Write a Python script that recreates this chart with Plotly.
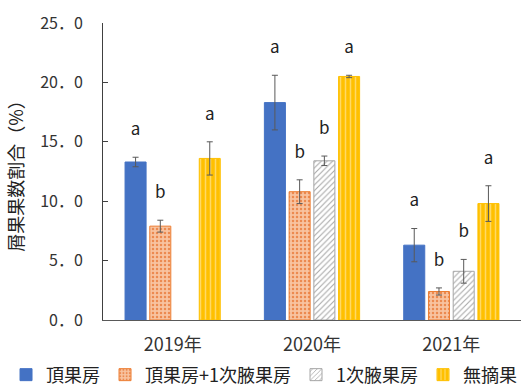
import plotly.graph_objects as go

years = ["2019年", "2020年", "2021年"]
series = ["頂果房", "頂果房+1次腋果房", "1次腋果房", "無摘果"]
values = {
    "頂果房": [13.3, 18.3, 6.3],
    "頂果房+1次腋果房": [7.9, 10.8, 2.4],
    "1次腋果房": [None, 13.4, 4.1],
    "無摘果": [13.6, 20.5, 9.8],
}
errors = {
    "頂果房": [0.4, 2.3, 1.4],
    "頂果房+1次腋果房": [0.5, 1.0, 0.3],
    "1次腋果房": [None, 0.4, 1.0],
    "無摘果": [1.4, 0.1, 1.5],
}
letters = {
    "頂果房": ["a", "a", "a"],
    "頂果房+1次腋果房": ["b", "b", "b"],
    "1次腋果房": ["", "b", "b"],
    "無摘果": ["a", "a", "a"],
}
yticks = [0, 5, 10, 15, 20, 25]
yticklabels = ["0．0", "5．0", "10．0", "15．0", "20．0", "25．0"]

styles = {
    "頂果房": dict(color="#4472C4", line=dict(color="#4472C4", width=1)),
    "頂果房+1次腋果房": dict(color="#F8C3A0", line=dict(color="#ED7D31", width=1),
                        pattern=dict(shape=".", fgcolor="#EC8A50", bgcolor="#F8C3A0",
                                     size=4, solidity=0.3, fillmode="replace")),
    "1次腋果房": dict(color="#FFFFFF", line=dict(color="#A6A6A6", width=1),
                  pattern=dict(shape="/", fgcolor="#A6A6A6", bgcolor="#FFFFFF",
                               size=4, solidity=0.25, fillmode="replace")),
    "無摘果": dict(color="#FFC000", line=dict(color="#FFC000", width=1),
                pattern=dict(shape="|", fgcolor="#FFD966", bgcolor="#FFC000",
                             size=5, solidity=0.3, fillmode="replace")),
}

FONT = "Noto Sans CJK JP"
fig = go.Figure()
for s in series:
    fig.add_trace(go.Bar(
        x=years, y=values[s], name=s, offsetgroup=s,
        marker=styles[s],
        error_y=dict(type="data", array=errors[s], visible=True,
                     color="#595959", thickness=1, width=3),
        hoverinfo="skip",
    ))

# significance letters above error bars (same offsetgroup -> same x slot)
pad = 1.2
for s in series:
    base = [(v + e) if v is not None else None for v, e in zip(values[s], errors[s])]
    fig.add_trace(go.Bar(
        x=years, y=[pad if b is not None else None for b in base], base=base,
        offsetgroup=s, showlegend=False, hoverinfo="skip",
        marker=dict(color="rgba(0,0,0,0)", line=dict(width=0)),
        text=letters[s], textposition="outside", constraintext="none",
        textfont=dict(family=FONT, size=17, color="#222222"),
        cliponaxis=False,
    ))

fig.update_layout(
    width=521, height=388,
    margin=dict(l=103, r=0, t=23, b=68, autoexpand=False),
    paper_bgcolor="white", plot_bgcolor="white",
    barmode="group", bargap=0.29, bargroupgap=0.15,
    font=dict(family=FONT, size=15, color="#333333"),
    showlegend=True,
    legend=dict(orientation="h", x=-0.232, xanchor="left", y=-0.185, yanchor="middle",
                font=dict(family=FONT, size=18, color="#222222"),
                traceorder="normal", itemwidth=30, tracegroupgap=0),
    xaxis=dict(showline=True, linecolor="#595959", linewidth=1, ticks="",
               tickfont=dict(size=18, color="#333333"), showgrid=False,
               ticklabelstandoff=8),
    yaxis=dict(range=[0, 25], tickvals=yticks, ticktext=yticklabels,
               showline=True, linecolor="#404040", linewidth=1,
               ticks="inside", ticklen=5, tickcolor="#404040",
               ticklabelstandoff=16, showgrid=False, zeroline=False,
               tickfont=dict(size=16, color="#333333"),
               title=dict(text="屑果果数割合（%）", standoff=11,
                          font=dict(size=18, color="#222222"))),
)
fig.write_html("out.html")
